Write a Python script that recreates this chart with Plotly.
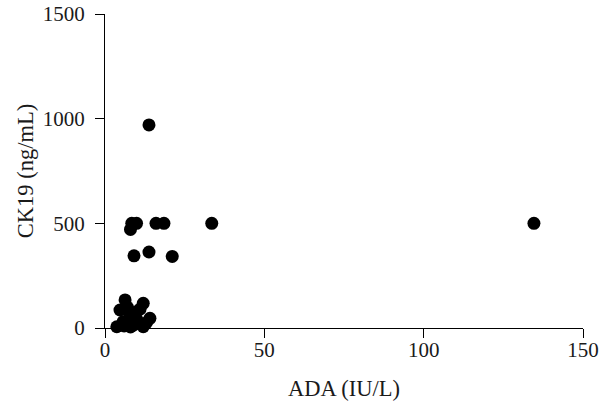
import plotly.graph_objects as go

ada = [13.8, 8.4, 9.9, 16.0, 18.5, 33.5, 134.6, 8.0, 9.1, 13.8, 21.1,
       6.3, 4.7, 12.0, 14.1, 3.7, 12.0, 7.8, 8.9, 5.7, 9.9, 10.0, 7.0, 11.0, 6.0, 13.0, 8.0]
ck19 = [970, 500, 500, 500, 500, 500, 500, 471, 345, 363, 342,
        134, 86, 118, 46, 6, 6, 62, 14, 30, 78, 40, 100, 90, 10, 25, 5]

xticks = [0, 50, 100, 150]
yticks = [0, 500, 1000, 1500]

fig = go.Figure(go.Scatter(
    x=ada, y=ck19, mode="markers",
    marker=dict(size=13, color="black", line=dict(width=0)),
    cliponaxis=False,
))

fam = "Liberation Serif, Times New Roman, serif"
axis_common = dict(
    showgrid=False, zeroline=False, showline=True, linecolor="black", linewidth=1.3,
    ticks="outside", ticklen=9, tickwidth=1.3, tickcolor="black", automargin=False,
    tickfont=dict(family=fam, size=21, color="#1a1a1a"),
)
fig.update_layout(
    width=600, height=407,
    margin=dict(l=105, r=17, t=14, b=79),
    plot_bgcolor="white", paper_bgcolor="white",
    showlegend=False,
    font=dict(family=fam, size=21, color="#1a1a1a"),
    xaxis=dict(range=[0, 150], tickvals=xticks, ticktext=[str(v) for v in xticks],
               title=dict(text="ADA (IU/L)", font=dict(size=22.5), standoff=18),
               ticklabelstandoff=-6, **axis_common),
    yaxis=dict(range=[0, 1500], tickvals=yticks, ticktext=[str(v) for v in yticks],
               title=dict(text="CK19 (ng/mL)", font=dict(size=22.5), standoff=2),
               ticklabelstandoff=6, **axis_common),
)
fig.write_html("out.html", config={"displayModeBar": False},
               post_script="document.body.style.margin='0';")
